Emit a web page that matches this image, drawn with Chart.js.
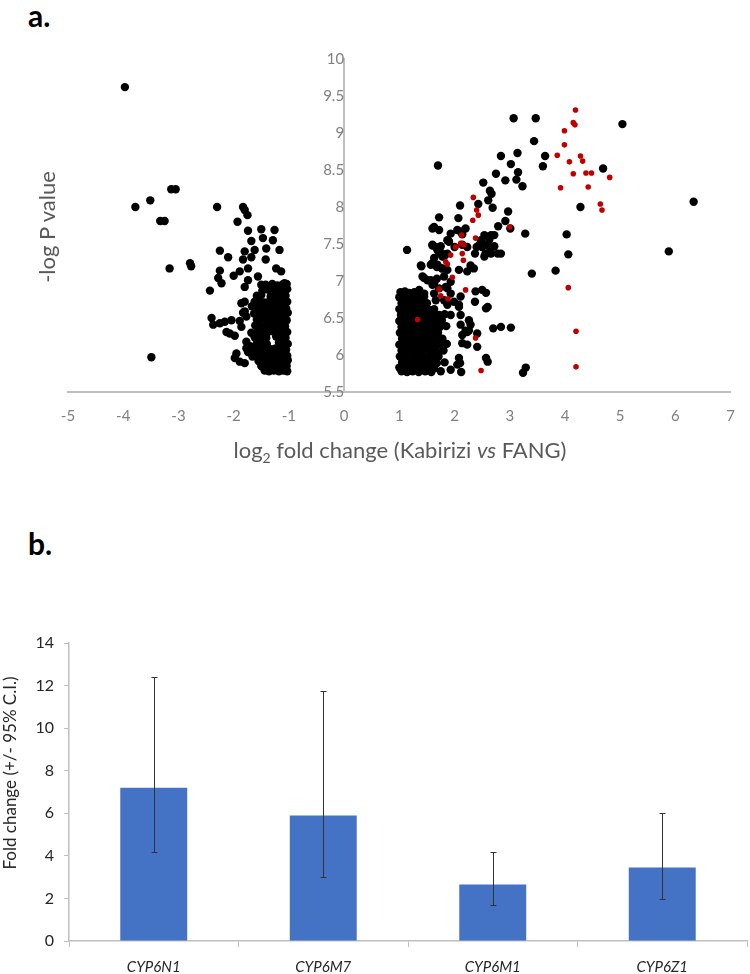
<!DOCTYPE html>
<html>
<head>
<meta charset="utf-8">
<script src="https://cdn.jsdelivr.net/npm/chart.js@4.4.1/dist/chart.umd.min.js"></script>
<style>
html,body{margin:0;padding:0;background:#fff;}
body{width:750px;height:974px;position:relative;overflow:hidden;font-family:Lato,'Open Sans',sans-serif;}
.panel{position:absolute;font-weight:bold;font-size:30px;line-height:30px;color:#000;}
#wrapA{position:absolute;left:0;top:0;width:750px;height:440px;}
#wrapB{position:absolute;left:0;top:560px;width:750px;height:414px;}
.xtitle{position:absolute;left:68px;width:664px;top:436px;text-align:center;font-size:22px;line-height:28px;color:#595959;}
.xtitle sub{font-size:14px;vertical-align:-5px;line-height:0;}
.ytitle{position:absolute;text-align:center;transform:rotate(-90deg);white-space:nowrap;}
#ytA{left:-53px;top:213px;width:200px;height:28px;line-height:28px;font-size:22px;color:#595959;}
#ytB{left:-90px;top:762px;width:200px;height:22px;line-height:22px;font-size:17px;color:#262626;}
</style>
</head>
<body>
<div class="panel" style="left:28px;top:0px;">a.</div>
<div class="panel" style="left:28px;top:528px;">b.</div>
<div id="wrapA"><canvas id="volcano" width="750" height="440"></canvas></div>
<div class="xtitle">log<sub>2</sub> fold change (Kabirizi <i>vs</i> FANG)</div>
<div class="ytitle" id="ytA">-log P value</div>
<div id="wrapB"><canvas id="bars" width="750" height="414"></canvas></div>
<div class="ytitle" id="ytB">Fold change (+/- 95% C.I.)</div>
<script>
// volcano plot, log2 FC vs -log P
const negOutliers = [
  [-3.97,9.62],[-3.78,8.00],[-3.51,8.09],[-3.33,7.81],[-3.25,7.81],[-3.13,8.24],[-3.05,8.24],
  [-3.16,7.17],[-2.79,7.24],[-2.77,7.20],[-3.49,5.97],[-2.30,8.00],[-1.83,8.00],[-1.80,7.96],
  [-1.75,7.89],[-1.93,7.80],[-1.74,7.68],[-1.50,7.70],[-1.26,7.69],[-1.68,7.54],[-1.47,7.58],
  [-1.29,7.55],[-2.25,7.41],[-2.10,7.32],[-1.80,7.40],[-1.62,7.42],[-1.41,7.44],[-1.17,7.42],
  [-1.83,7.29],[-1.68,7.32],[-1.42,7.29],[-1.23,7.17],[-1.14,7.13],[-2.25,7.14],[-2.28,7.04],
  [-2.22,6.97],[-2.00,7.07],[-1.89,7.13],[-1.74,7.17],[-1.74,7.01],[-1.56,7.06],[-2.43,6.87],
  [-1.80,6.92],[-1.50,6.95],[-1.08,6.97],[-1.86,6.70],[-1.80,6.59],[-1.77,6.52],[-2.40,6.50],
  [-2.37,6.41],[-2.25,6.43],[-2.16,6.45],[-2.04,6.47],[-2.13,6.31],[-2.07,6.29],[-1.98,6.26],
  [-1.86,6.38],[-1.77,6.18],[-1.95,6.02],[-1.98,5.96],[-1.89,5.91],[-1.80,5.89],[-1.74,6.04],
  [-1.89,6.46],[-1.83,6.57],[-1.80,6.72],[-1.77,6.09],[-1.68,6.30],[-1.70,6.12],[-1.66,5.98],
  [-1.67,6.66]
];
const negCluster = [
  [-1.42,6.95],[-1.30,6.96],[-1.21,6.94],[-1.12,6.95],[-1.04,6.96],
  [-1.48,6.87],[-1.37,6.88],[-1.27,6.89],[-1.18,6.87],[-1.09,6.88],[-1.03,6.89],
  [-1.58,6.80],[-1.50,6.81],[-1.33,6.79],[-1.24,6.80],[-1.15,6.81],[-1.06,6.80],
  [-1.62,6.72],[-1.53,6.73],[-1.45,6.71],[-1.36,6.72],[-1.28,6.73],[-1.19,6.72],[-1.10,6.71],[-1.03,6.72],
  [-1.57,6.64],[-1.49,6.65],[-1.40,6.63],[-1.31,6.64],[-1.22,6.65],[-1.13,6.64],[-1.05,6.63],
  [-1.63,6.56],[-1.52,6.57],[-1.44,6.55],[-1.35,6.56],[-1.27,6.57],[-1.17,6.56],[-1.08,6.55],[-1.02,6.57],
  [-1.58,6.48],[-1.48,6.49],[-1.39,6.47],[-1.30,6.48],[-1.21,6.49],[-1.12,6.48],[-1.04,6.47],
  [-1.61,6.40],[-1.53,6.41],[-1.43,6.39],[-1.34,6.40],[-1.25,6.41],[-1.16,6.40],[-1.07,6.39],
  [-1.56,6.32],[-1.46,6.33],[-1.38,6.31],[-1.29,6.32],[-1.20,6.33],[-1.11,6.32],[-1.03,6.31],
  [-1.62,6.24],[-1.51,6.25],[-1.41,6.23],[-1.23,6.25],[-1.14,6.24],[-1.06,6.23],
  [-1.58,6.16],[-1.48,6.17],[-1.40,6.15],[-1.18,6.17],[-1.09,6.16],[-1.02,6.15],
  [-1.64,6.08],[-1.53,6.09],[-1.43,6.07],[-1.33,6.08],[-1.24,6.09],[-1.15,6.08],[-1.05,6.07],
  [-1.59,6.00],[-1.49,6.01],[-1.39,5.99],[-1.29,6.00],[-1.20,6.01],[-1.11,6.00],[-1.03,5.99],
  [-1.55,5.92],[-1.45,5.93],[-1.35,5.91],[-1.26,5.92],[-1.17,5.93],[-1.08,5.92],[-1.02,5.93],
  [-1.50,5.85],[-1.41,5.86],[-1.31,5.84],[-1.22,5.85],[-1.13,5.86],[-1.04,5.85],
  [-1.44,5.79],[-1.36,5.78],[-1.27,5.79],[-1.18,5.78],[-1.10,5.79],[-1.03,5.78]
];
const posCluster = [
  [1.02,6.85],[1.10,6.86],[1.18,6.84],[1.27,6.85],[1.36,6.86],
  [1.00,6.78],[1.08,6.77],[1.16,6.79],[1.25,6.78],[1.33,6.77],[1.45,6.79],
  [1.04,6.70],[1.12,6.71],[1.21,6.69],[1.30,6.70],[1.40,6.71],[1.50,6.70],
  [1.00,6.62],[1.08,6.63],[1.17,6.61],[1.26,6.62],[1.35,6.63],[1.44,6.62],[1.54,6.61],[1.63,6.62],
  [1.03,6.54],[1.12,6.55],[1.21,6.53],[1.31,6.54],[1.41,6.55],[1.51,6.54],[1.62,6.53],[1.72,6.54],[1.82,6.55],
  [1.00,6.46],[1.08,6.47],[1.17,6.45],[1.26,6.46],[1.37,6.47],[1.47,6.46],[1.58,6.45],[1.68,6.46],[1.77,6.47],
  [1.04,6.38],[1.13,6.39],[1.22,6.37],[1.32,6.38],[1.43,6.39],[1.53,6.38],[1.64,6.37],[1.74,6.38],[1.85,6.39],
  [1.01,6.30],[1.09,6.31],[1.18,6.29],[1.28,6.30],[1.38,6.31],[1.49,6.30],[1.59,6.29],[1.70,6.30],
  [1.05,6.22],[1.14,6.23],[1.24,6.21],[1.34,6.22],[1.44,6.23],[1.55,6.22],[1.66,6.21],[1.78,6.22],
  [1.00,6.14],[1.09,6.15],[1.19,6.13],[1.29,6.14],[1.40,6.15],[1.51,6.14],[1.62,6.13],[1.73,6.14],[1.86,6.15],
  [1.04,6.06],[1.13,6.07],[1.23,6.05],[1.33,6.06],[1.44,6.07],[1.56,6.06],[1.67,6.05],[1.80,6.06],
  [1.01,5.98],[1.09,5.99],[1.18,5.97],[1.28,5.98],[1.38,5.99],[1.49,5.98],[1.60,5.97],[1.71,5.98],
  [1.05,5.90],[1.14,5.91],[1.24,5.89],[1.34,5.90],[1.45,5.91],[1.56,5.90],[1.68,5.89],[1.82,5.90],
  [1.00,5.83],[1.09,5.84],[1.19,5.82],[1.29,5.83],[1.40,5.84],[1.52,5.83],[1.63,5.82],
  [1.04,5.78],[1.14,5.77],[1.24,5.78],[1.35,5.77],[1.47,5.78],[1.58,5.77],[1.75,5.78]
];
const posScatter = [
  [1.14,7.42],[1.70,8.56],[1.72,7.86],[1.60,7.71],[1.63,7.73],[1.72,7.69],[1.89,7.54],[1.87,7.55],
  [1.60,7.48],[1.66,7.46],[1.75,7.47],[1.60,7.49],[1.69,7.42],[1.78,7.33],[1.73,7.37],[1.81,7.33],
  [1.63,7.31],[1.69,7.22],[1.78,7.17],[1.39,7.21],[1.57,7.22],[1.40,7.20],[1.60,7.24],[1.68,7.19],
  [1.77,7.17],[1.87,7.15],[2.08,7.15],[1.42,7.06],[1.51,7.01],[1.60,6.95],[1.68,7.03],[1.81,7.06],
  [1.93,6.99],[1.84,6.92],[1.45,7.04],[1.57,7.01],[1.63,6.97],[1.72,6.90],[1.87,6.90],[1.93,6.83],
  [1.36,6.88],[1.45,6.83],[1.63,6.83],[1.66,6.74],[1.87,6.70],[1.99,6.72],[2.08,6.65],[2.11,6.54],
  [1.93,6.54],[2.11,6.79],[2.08,6.68],[1.81,6.74],[1.87,6.68],[1.90,7.53],[2.00,7.46],[2.14,7.49],
  [2.23,7.46],[1.78,7.37],[1.87,7.37],[1.93,7.64],[2.05,7.69],[2.11,7.67],[2.20,7.71],[2.14,7.63],
  [2.10,8.02],[2.07,7.85],[2.43,8.04],[2.61,8.09],[2.69,7.99],[2.52,8.33],[2.64,8.22],[2.67,8.18],
  [2.75,8.45],[2.84,8.69],[3.14,8.73],[3.02,8.58],[3.15,8.47],[3.12,8.37],[2.92,8.36],[3.23,8.28],
  [3.07,9.20],[3.47,9.20],[5.04,9.12],[3.44,8.89],[3.64,8.69],[3.60,8.55],[4.69,8.52],[6.33,8.07],
  [4.28,8.00],[2.97,7.94],[2.92,7.81],[2.79,7.74],[3.01,7.71],[3.28,7.64],[4.03,7.63],[4.06,7.36],
  [5.88,7.40],[3.40,7.10],[3.83,7.14],[2.72,7.62],[2.63,7.56],[2.54,7.62],[2.45,7.49],[2.50,7.46],
  [2.63,7.46],[2.72,7.47],[2.56,7.37],[2.66,7.37],[2.84,7.37],[2.48,7.55],[2.57,7.49],[2.66,7.44],
  [2.54,7.33],[2.66,7.62],[2.78,7.37],[2.40,7.46],[2.37,7.37],[2.29,7.21],[2.23,7.13],[2.35,7.17],
  [2.50,6.88],[2.57,6.84],[2.38,6.86],[2.37,6.72],[2.57,6.63],[2.60,6.65],[2.70,6.36],[2.84,6.38],
  [3.02,6.37],[2.20,6.33],[2.26,6.33],[2.11,6.41],[2.14,6.27],[2.23,6.31],[2.26,6.47],[2.29,6.41],
  [2.41,6.29],[2.41,6.11],[2.14,6.16],[2.23,6.14],[2.08,5.96],[2.10,5.89],[1.93,5.80],[2.12,5.77],
  [2.05,5.87],[2.57,5.96],[2.60,5.91],[3.29,5.83],[3.24,5.76]
];
// highlighted genes (red)
const redPoints = [
  [4.19,9.31],[4.15,9.14],[4.18,9.11],[3.99,9.03],[3.99,8.84],[3.86,8.70],[4.28,8.69],[4.32,8.62],
  [4.08,8.61],[4.15,8.45],[4.38,8.46],[4.48,8.46],[4.81,8.40],[3.92,8.26],[4.42,8.27],[4.64,8.04],
  [4.67,7.96],[4.06,6.91],[4.20,6.32],[4.20,5.84],[2.34,8.13],[2.40,7.96],[2.43,7.89],[2.33,7.82],
  [3.00,7.73],[2.38,7.58],[2.13,7.62],[2.02,7.46],[2.17,7.49],[2.11,7.51],[1.93,7.35],[2.14,7.37],
  [2.16,7.28],[1.84,7.26],[1.87,7.23],[1.96,7.05],[2.20,6.88],[1.72,6.89],[1.75,6.80],[1.88,6.76],
  [1.33,6.48],[2.38,6.23],[2.48,5.79]
];

// qPCR validation
const genes = ['CYP6N1','CYP6M7','CYP6M1','CYP6Z1'];
const foldChange = [7.2, 5.9, 2.65, 3.45];
const ciLow = [4.18, 2.99, 1.67, 1.97];
const ciHigh = [12.42, 11.75, 4.2, 6.02];

const toXY = arr => arr.map(p => ({x:p[0], y:p[1]}));
const FONT = 'Lato';
const plainNum = v => String(+Number(v).toFixed(1));

new Chart(document.getElementById('volcano'), {
  type:'scatter',
  data:{datasets:[
    {data:toXY(negOutliers.concat(negCluster, posCluster, posScatter)), backgroundColor:'#000', borderWidth:0, pointRadius:4.2, order:1},
    {data:toXY(redPoints), backgroundColor:'#c00000', borderWidth:0, pointRadius:2.8, order:0}
  ]},
  options:{
    responsive:false, animation:false,
    layout:{padding:{left:68, right:18, top:59, bottom:8}},
    plugins:{legend:{display:false}, tooltip:{enabled:false}},
    scales:{
      x:{type:'linear', min:-5, max:7,
        ticks:{stepSize:1, color:'#7f7f7f', font:{family:FONT, size:15}, padding:15, callback:plainNum},
        grid:{drawOnChartArea:false, drawTicks:false},
        border:{color:'#bfbfbf', width:2},
        afterFit:s=>{s.height=40;}},
      y:{type:'linear', min:5.5, max:10, position:{x:0},
        ticks:{stepSize:0.5, color:'#7f7f7f', font:{family:FONT, size:15}, padding:16, callback:plainNum},
        grid:{drawOnChartArea:false, drawTicks:false},
        border:{color:'#bfbfbf', width:2}}
    }
  }
});

const errorBars = {
  id:'errorBars',
  afterDatasetsDraw(chart){
    const {ctx} = chart, y = chart.scales.y;
    ctx.save();
    ctx.strokeStyle = '#333'; ctx.lineWidth = 1;
    chart.getDatasetMeta(0).data.forEach((bar, i) => {
      const x = Math.round(bar.x) + 0.5;
      const yl = Math.round(y.getPixelForValue(ciLow[i])) + 0.5;
      const yh = Math.round(y.getPixelForValue(ciHigh[i])) + 0.5;
      ctx.beginPath();
      ctx.moveTo(x, yh); ctx.lineTo(x, yl);
      ctx.moveTo(x-3, yh); ctx.lineTo(x+3, yh);
      ctx.moveTo(x-3, yl); ctx.lineTo(x+3, yl);
      ctx.stroke();
    });
    ctx.restore();
  }
};

new Chart(document.getElementById('bars'), {
  type:'bar',
  data:{labels:genes, datasets:[{data:foldChange, backgroundColor:'#4472c4', barPercentage:0.395, categoryPercentage:1}]},
  options:{
    responsive:false, animation:false,
    layout:{padding:{left:0, right:3, top:83, bottom:0}},
    plugins:{legend:{display:false}, tooltip:{enabled:false}},
    scales:{
      x:{ticks:{color:'#262626', font:{family:FONT, size:15, style:'italic'}, padding:11},
        grid:{drawOnChartArea:false, drawTicks:true, tickLength:6, color:'#bfbfbf'},
        border:{color:'#bfbfbf', width:1.5},
        afterFit:s=>{s.height=33;}},
      y:{min:0, max:14,
        ticks:{stepSize:2, color:'#262626', font:{family:FONT, size:16}, padding:10},
        grid:{drawOnChartArea:false, drawTicks:true, tickLength:5, color:'#bfbfbf'},
        border:{color:'#bfbfbf', width:1.5},
        afterFit:s=>{s.width=69;}}
    }
  },
  plugins:[errorBars]
});
</script>
</body>
</html>
